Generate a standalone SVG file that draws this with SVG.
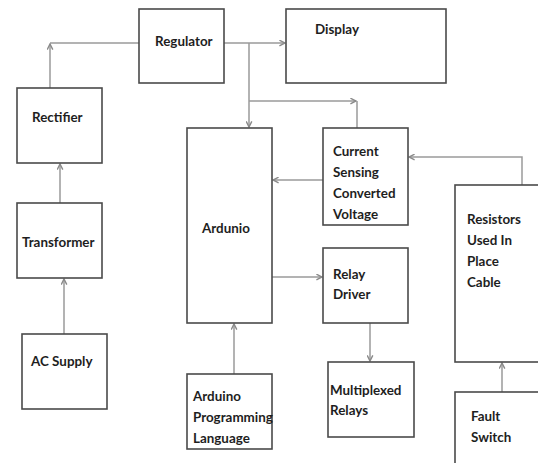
<svg xmlns="http://www.w3.org/2000/svg" width="538" height="463" viewBox="0 0 538 463">
<defs>
<style>
.box{fill:#fff;stroke:#4a4a4a;stroke-width:1.6}
.t{font-family:Lato,"Open Sans","Liberation Sans",sans-serif;font-weight:bold;font-size:13.4px;fill:#1e1e1e}
.c{fill:none;stroke:#9a9a9a;stroke-width:1.5}
</style>
<marker id="ah" viewBox="0 0 10 10" refX="9" refY="5" markerWidth="7" markerHeight="7" markerUnits="userSpaceOnUse" orient="auto">
<path d="M1,1 L9,5 L1,9" fill="none" stroke="#8a8a8a" stroke-width="2"/>
</marker>
</defs>
<rect width="538" height="463" fill="#fff"/>
<g id="connectors">
<path class="c" d="M139,43 H50"/>
<path class="c" d="M50,88 V44" marker-end="url(#ah)"/>
<path class="c" d="M60,203 V164" marker-end="url(#ah)"/>
<path class="c" d="M64,334 V279" marker-end="url(#ah)"/>
<path class="c" d="M224,43 H285" marker-end="url(#ah)"/>
<path class="c" d="M249,43 V127" marker-end="url(#ah)"/>
<path class="c" d="M249,101 H356" marker-end="url(#ah)"/>
<path class="c" d="M357,101 V128"/>
<path class="c" d="M323,180 H273" marker-end="url(#ah)"/>
<path class="c" d="M522,185 V157 H409" marker-end="url(#ah)"/>
<path class="c" d="M272,277 H322" marker-end="url(#ah)"/>
<path class="c" d="M370,323 V361" marker-end="url(#ah)"/>
<path class="c" d="M502,392 V363" marker-end="url(#ah)"/>
<path class="c" d="M234,374 V324" marker-end="url(#ah)"/>
</g>
<g id="regulator"><rect class="box" x="139" y="9" width="85" height="74"/><text class="t" x="155" y="46">Regulator</text></g>
<g id="display"><rect class="box" x="286" y="9" width="160" height="74"/><text class="t" x="315" y="34">Display</text></g>
<g id="rectifier"><rect class="box" x="17" y="88" width="85" height="75"/><text class="t" x="32" y="122">Rectifier</text></g>
<g id="transformer"><rect class="box" x="17" y="203" width="85" height="75"/><text class="t" x="22" y="247">Transformer</text></g>
<g id="ac-supply"><rect class="box" x="22" y="334" width="85" height="75"/><text class="t" x="31" y="366">AC Supply</text></g>
<g id="arduino"><rect class="box" x="187" y="128" width="85" height="195"/><text class="t" x="202" y="233">Ardunio</text></g>
<g id="current-sensing"><rect class="box" x="323" y="128" width="85" height="97"/>
<text class="t" x="333" y="156">Current</text><text class="t" x="333" y="177">Sensing</text><text class="t" x="333" y="198">Converted</text><text class="t" x="333" y="219">Voltage</text></g>
<g id="resistors"><rect class="box" x="455" y="185" width="90" height="177"/>
<text class="t" x="467" y="224">Resistors</text><text class="t" x="467" y="245">Used In</text><text class="t" x="467" y="266">Place</text><text class="t" x="467" y="287">Cable</text></g>
<g id="relay-driver"><rect class="box" x="323" y="248" width="85" height="75"/>
<text class="t" x="333" y="279">Relay</text><text class="t" x="333" y="299">Driver</text></g>
<g id="multiplexed-relays"><rect class="box" x="328" y="362" width="86" height="75"/>
<text class="t" x="330" y="395">Multiplexed</text><text class="t" x="330" y="415">Relays</text></g>
<g id="fault-switch"><rect class="box" x="455" y="392" width="90" height="80"/>
<text class="t" x="471" y="421">Fault</text><text class="t" x="471" y="442">Switch</text></g>
<g id="arduino-programming"><rect class="box" x="187" y="374" width="85" height="75"/>
<text class="t" x="193" y="401">Arduino</text><text class="t" x="193" y="422">Programming</text><text class="t" x="193" y="443">Language</text></g>
</svg>
